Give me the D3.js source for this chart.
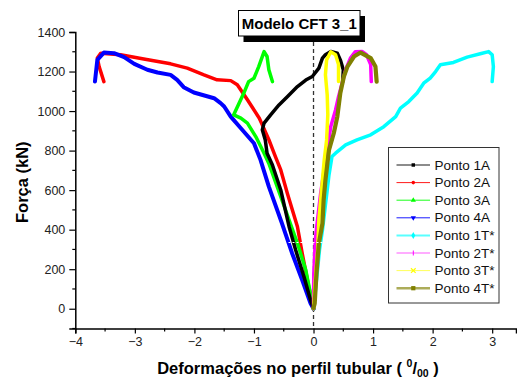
<!DOCTYPE html>
<html><head><meta charset="utf-8">
<script src="https://cdn.jsdelivr.net/npm/d3@7"></script>
<style>body{margin:0;background:#fff}svg{display:block}</style>
</head><body>
<svg id="c" width="517" height="379"></svg>
<script>
// ---- data ----
const seriesNames = ["Ponto 1A","Ponto 2A","Ponto 3A","Ponto 4A","Ponto 1T*","Ponto 2T*","Ponto 3T*","Ponto 4T*"];
const seriesColors = ["#000000","#ff0000","#00ff00","#0000ff","#00ffff","#ff00ff","#ffff00","#808000"];
const markerTypes = ["square","circle","triangle","triangleDown","diamond","bar","cross","square"];
const ponto1A = [[0,0],[-0.05,44],[-0.16,162],[-0.30,297],[-0.41,415],[-0.55,601],[-0.69,727],[-0.78,787],[-0.81,854],[-0.86,905],[-0.83,939],[-0.72,981],[-0.58,1031],[-0.44,1073],[-0.27,1124],[-0.13,1157],[-0.02,1175],[0.09,1217],[0.15,1268],[0.20,1285],[0.29,1301],[0.40,1293],[0.45,1259],[0.50,1209],[0.49,1149]];
const ponto2A = [[0,0],[-0.012,27],[-0.08,111],[-0.19,280],[-0.27,415],[-0.44,584],[-0.55,702],[-0.64,770],[-0.75,855],[-0.86,930],[-0.91,964],[-1.11,1057],[-1.28,1133],[-1.39,1154],[-1.62,1158],[-1.84,1183],[-2.12,1217],[-2.40,1239],[-2.85,1263],[-3.24,1285],[-3.57,1293],[-3.63,1268],[-3.60,1225],[-3.52,1149]];
const ponto3A = [[0,0],[-0.03,44],[-0.13,196],[-0.27,331],[-0.41,449],[-0.61,618],[-0.75,735],[-0.83,787],[-0.97,871],[-1.11,939],[-1.22,964],[-1.34,981],[-1.25,1040],[-1.17,1091],[-1.09,1149],[-1.00,1166],[-0.92,1225],[-0.83,1301],[-0.78,1276],[-0.75,1209],[-0.69,1149]];
const ponto4A = [[0,0],[-0.05,27],[-0.19,145],[-0.36,281],[-0.53,432],[-0.75,618],[-0.89,753],[-1.00,837],[-1.22,913],[-1.39,972],[-1.50,1023],[-1.56,1040],[-1.67,1065],[-2.01,1094],[-2.18,1121],[-2.29,1158],[-2.40,1183],[-2.62,1195],[-2.79,1209],[-3.01,1239],[-3.18,1273],[-3.35,1293],[-3.52,1296],[-3.63,1259],[-3.67,1149]];
const ponto1T = [[0,0],[0.05,145],[0.10,297],[0.15,398],[0.20,525],[0.23,601],[0.26,677],[0.31,770],[0.37,787],[0.54,829],[0.73,854],[0.96,880],[1.18,921],[1.38,972],[1.46,1015],[1.60,1048],[1.74,1091],[1.85,1141],[1.96,1167],[2.05,1200],[2.13,1234],[2.35,1246],[2.58,1273],[2.80,1290],[2.94,1301],[3.00,1285],[3.02,1225],[3.00,1149]];
const ponto2T = [[0,0],[0,44],[0.005,179],[0.03,348],[0.06,432],[0.12,584],[0.17,686],[0.23,803],[0.29,922],[0.37,1006],[0.42,1073],[0.48,1141],[0.54,1209],[0.62,1268],[0.70,1300],[0.82,1301],[0.89,1285],[0.96,1235],[0.97,1149]];
const ponto3T = [[0,0],[0.03,145],[0.07,297],[0.09,449],[0.12,550],[0.15,652],[0.18,753],[0.22,854],[0.24,981],[0.23,1082],[0.20,1183],[0.22,1259],[0.29,1300],[0.37,1285],[0.42,1235],[0.42,1149]];
const ponto4T = [[0,4],[0.02,27],[0.05,179],[0.09,331],[0.15,432],[0.17,550],[0.20,650],[0.26,803],[0.34,888],[0.40,972],[0.45,1091],[0.51,1175],[0.57,1225],[0.68,1276],[0.79,1296],[0.96,1268],[1.04,1225],[1.06,1149]];
const seriesData = [ponto1A,ponto2A,ponto3A,ponto4A,ponto1T,ponto2T,ponto3T,ponto4T];
const gapLine = [[-0.42,335],[0.15,335]];
const xTicks = [-4,-3,-2,-1,0,1,2,3];
const yTicks = [0,200,400,600,800,1000,1200,1400];
const titleText = "Modelo CFT 3_1";
const yLabel = "Força (kN)";

// ---- layout ----
const svg = d3.select("#c");
const x = d3.scaleLinear().domain([-4,3.4]).range([75.3,516]);
const y = d3.scaleLinear().domain([-100,1400]).range([328.5,32]);
const font = "Arial, 'Liberation Sans', sans-serif";

// dashed zero line
svg.append("line").attr("x1",x(0)).attr("x2",x(0)).attr("y1",42).attr("y2",y(-100))
  .attr("stroke","#333").attr("stroke-width",1.3).attr("stroke-dasharray","4,3");

// series
const line = d3.line().x(d=>x(d[0])).y(d=>y(d[1])).curve(d3.curveLinear);
const widths = [3.5,3.5,3.5,4,3.5,3.5,3.5,4.2];
const order = [1,3,2,0,4,5,6,7];
order.forEach(i=>{
  svg.append("path").attr("d",line(seriesData[i])).attr("fill","none")
    .attr("stroke",seriesColors[i]).attr("stroke-width",widths[i])
    .attr("stroke-linejoin","round").attr("stroke-linecap","round");
});
svg.append("path").attr("d",line(gapLine)).attr("stroke","#fff").attr("stroke-width",1)
  .attr("stroke-dasharray","2,2").attr("fill","none");

// axes
const xAxis = d3.axisBottom(x).tickValues(xTicks).tickSize(5).tickPadding(4).tickFormat(d3.format("d"));
const gx = svg.append("g").attr("transform",`translate(0,${y(-100)})`).call(xAxis);
const yAxis = d3.axisLeft(y).tickValues(yTicks).tickSize(6).tickPadding(4).tickFormat(d3.format("d"));
const gy = svg.append("g").attr("transform",`translate(${x(-4)},0)`).call(yAxis);
[gx,gy].forEach(g=>{
  g.select(".domain").attr("stroke","#000").attr("stroke-width",1.5);
  g.selectAll(".tick line").attr("stroke","#000").attr("stroke-width",1.2);
  g.selectAll("text").attr("font-family",font).attr("font-size",12.5).attr("fill","#222");
});
// minor ticks
const xMinor = d3.range(-3.5,3.5,1);
svg.append("g").selectAll("line").data(xMinor).join("line")
  .attr("x1",d=>x(d)).attr("x2",d=>x(d)).attr("y1",y(-100)).attr("y2",y(-100)+3)
  .attr("stroke","#000").attr("stroke-width",1.2);
const yMinor = d3.range(-100,1400,200);
svg.append("g").selectAll("line").data(yMinor).join("line")
  .attr("x1",x(-4)-3).attr("x2",x(-4)).attr("y1",d=>y(d)).attr("y2",d=>y(d))
  .attr("stroke","#000").attr("stroke-width",1.2);

// axis titles
svg.append("text").attr("transform",`translate(28,${y(640)}) rotate(-90)`)
  .attr("text-anchor","middle").attr("font-family",font).attr("font-weight","bold")
  .attr("font-size",16.5).attr("fill","#000").text(yLabel);
const xl = svg.append("text").attr("x",298).attr("y",374).attr("text-anchor","middle")
  .attr("font-family",font).attr("font-weight","bold").attr("font-size",16.5).attr("fill","#000");
xl.append("tspan").text("Deformações no perfil tubular ( ");
xl.append("tspan").attr("font-size",10.5).attr("dy",-7).text("0");
xl.append("tspan").attr("dy",7).text("/");
xl.append("tspan").attr("font-size",10.5).attr("dy",3).text("00");
xl.append("tspan").attr("dy",-3).text(" )");

// title box
svg.append("rect").attr("x",243.5).attr("y",16).attr("width",121.5).attr("height",26).attr("fill","#000");
svg.append("rect").attr("x",238.5).attr("y",10.5).attr("width",121.5).attr("height",25.5)
  .attr("fill","#fff").attr("stroke","#000").attr("stroke-width",1);
svg.append("text").attr("x",299.3).attr("y",29).attr("text-anchor","middle")
  .attr("font-family",font).attr("font-weight","bold").attr("font-size",15).attr("fill","#000").text(titleText);

// legend
const lg = svg.append("g");
lg.append("rect").attr("x",388.5).attr("y",147.5).attr("width",110.5).attr("height",155.5)
  .attr("fill","#fff").attr("stroke","#333").attr("stroke-width",1);
const legW = [1,1,1,1,2,1,1,2.5];
seriesNames.forEach((n,i)=>{
  const yy = 165 + i*17.6;
  lg.append("line").attr("x1",396.5).attr("x2",430).attr("y1",yy).attr("y2",yy)
    .attr("stroke",seriesColors[i]).attr("stroke-width",legW[i]).attr("stroke-opacity",i>=4?0.65:0.9);
  const cx = 413.3, t = markerTypes[i];
  let sym;
  if(t==="square") sym = d3.symbol(d3.symbolSquare, i===7?18:12);
  else if(t==="circle") sym = d3.symbol(d3.symbolCircle, 10);
  else if(t==="triangle") sym = d3.symbol(d3.symbolTriangle, 12);
  else if(t==="triangleDown") sym = d3.symbol(d3.symbolTriangle, 12);
  else if(t==="diamond") sym = d3.symbol(d3.symbolDiamond, 14);
  else if(t==="cross") sym = d3.symbol(d3.symbolX, 16);
  if(t==="bar"){
    lg.append("line").attr("x1",cx).attr("x2",cx).attr("y1",yy-2.5).attr("y2",yy+2.5)
      .attr("stroke",seriesColors[i]).attr("stroke-width",1);
  } else {
    const p = lg.append("path").attr("d",sym())
      .attr("transform",`translate(${cx},${yy})${t==="triangleDown"?" rotate(180)":""}`);
    if(t==="cross") p.attr("fill","none").attr("stroke",seriesColors[i]).attr("stroke-width",1.2);
    else p.attr("fill",seriesColors[i]);
  }
  lg.append("text").attr("x",434.5).attr("y",yy+4.5).attr("font-family",font)
    .attr("font-size",13.5).attr("fill","#111").text(n);
});
</script>
</body></html>
